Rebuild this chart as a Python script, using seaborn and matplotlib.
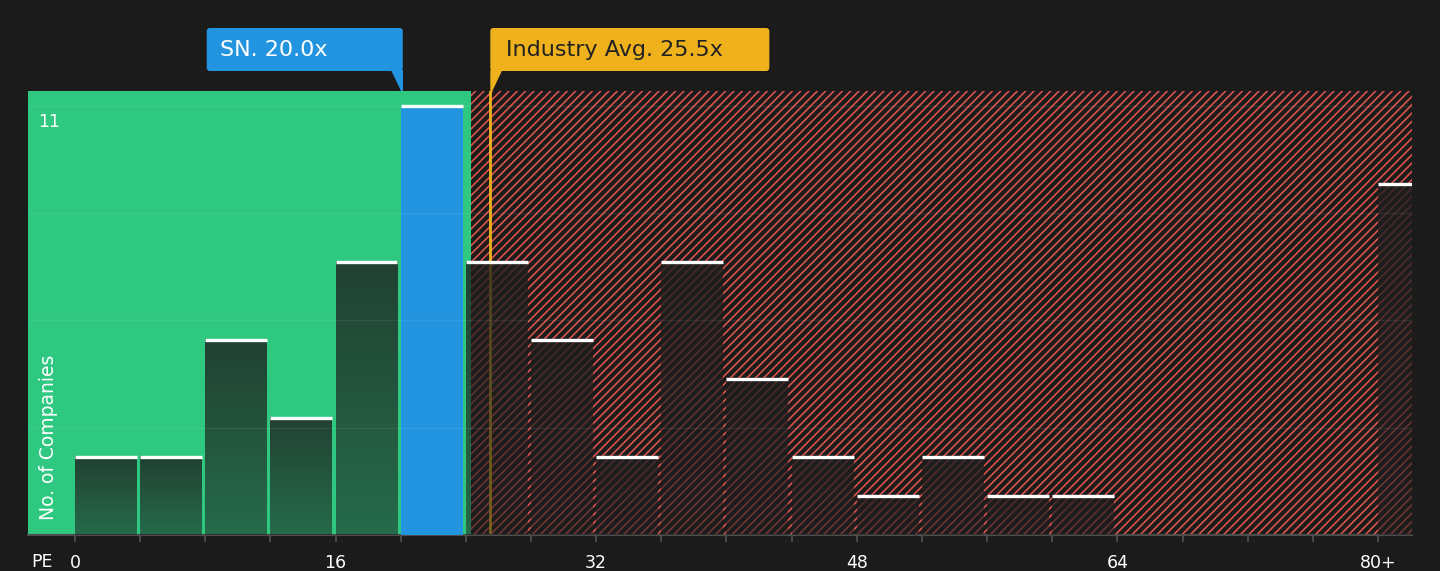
import numpy as np
import pandas as pd
import seaborn as sns
import matplotlib.pyplot as plt
from matplotlib.patches import FancyBboxPatch, Polygon

# PE histogram: left edge of each 4-wide bin, last bin is the 80+ bucket
pe_bins = [0, 4, 8, 12, 16, 20, 24, 28, 32, 36, 40, 44, 48, 52, 56, 60, 64, 68, 72, 76, 80]
n_companies = [2, 2, 5, 3, 7, 11, 7, 5, 2, 7, 4, 2, 1, 2, 1, 1, 0, 0, 0, 0, 9]
tick_values = [0, 16, 32, 48, 64, 80]
tick_labels = ["0", "16", "32", "48", "64", "80+"]
grid_values = [2.75, 5.5, 8.25, 11]

company_label = "SN. 20.0x"
company_pe = 20.0
industry_label = "Industry Avg. 25.5x"
industry_pe = 25.5
green_edge = 24.3  # edge of the green (good value) zone

BG = "#1b1b1b"
GREEN = "#2ec880"
BLUE = "#2394df"
YELLOW = "#efb21d"
RED = "#d9534f"

sns.set_style("dark", {"axes.facecolor": BG, "figure.facecolor": BG})
plt.rcParams["font.family"] = ["DejaVu Sans"]
plt.rcParams["hatch.linewidth"] = 1.2

df = pd.DataFrame({"pe": pe_bins, "count": n_companies})

fig = plt.figure(figsize=(14.4, 5.71), dpi=100)
ax = fig.add_axes([28 / 1440, 36 / 571, 1384 / 1440, 444 / 571])

sns.histplot(data=df, x="pe", weights="count", bins=pe_bins + [84], ax=ax,
             stat="count", element="bars", linewidth=0, zorder=3)
bars = list(ax.patches)

x_left, x_right = -2.886, 82.09
y_top = 11.38
ax.set_xlim(x_left, x_right)
ax.set_ylim(0, y_top)

# background zones
ax.axvspan(-10, green_edge, color=GREEN, lw=0, zorder=0.5)
ax.axvspan(green_edge, 100, facecolor="none", edgecolor=RED, hatch="////", lw=0, zorder=0.6)

# industry average line (under the bars)
ax.axvline(industry_pe, color=YELLOW, lw=2, zorder=2)

# bars: dark gradient, company bin blue, white caps
grad = np.zeros((100, 1, 4))
grad[..., :3] = 0.12
grad[:, 0, 3] = np.linspace(0.8, 0.55, 100)
for p in bars:
    p.set_width(p.get_width() * 0.95)
    x0, w, h = p.get_x(), p.get_width(), p.get_height()
    if h <= 0:
        continue
    if x0 <= company_pe < x0 + 4:
        p.set_facecolor(BLUE)
        p.set_alpha(1)
    else:
        p.set_facecolor("none")
        ax.imshow(grad, extent=(x0, x0 + w, 0, h), aspect="auto", zorder=3,
                  interpolation="bilinear")
    ax.hlines(h, x0, x0 + w, color="white", lw=2.4, zorder=4)

ax.set_xlim(x_left, x_right)
ax.set_ylim(0, y_top)

for g in grid_values:
    ax.axhline(g, color="white", alpha=0.07, lw=1, zorder=5)

ax.set_xlabel("")
ax.set_ylabel("")
ax.set_yticks([])
ax.set_xticks(tick_values)
ax.set_xticklabels(tick_labels)
ax.set_xticks(range(0, 84, 4), minor=True)
ax.tick_params(axis="x", which="both", length=5, width=1.3, color="#4d4d4d",
               labelcolor="white", labelsize=12.5, pad=8.5, bottom=True)
for s in ["top", "left", "right"]:
    ax.spines[s].set_visible(False)
ax.spines["bottom"].set_color("#4d4d4d")
ax.spines["bottom"].set_linewidth(1.5)

ax.text(0.0072, 10.82, "11", transform=ax.get_yaxis_transform(), color="white",
        fontsize=12.5, ha="left", va="top")
ax.text(0.0145, 0.034, "No. of Companies", transform=ax.transAxes, color="white",
        fontsize=13.5, rotation=90, ha="center", va="bottom", zorder=6)
fig.text(42 / 1440, 9 / 571, "PE", color="white", fontsize=12.5, ha="center", va="center")

# callout boxes above the plot (in inches)
def to_inch(xv):
    return ax.transData.transform((xv, 0))[0] / fig.dpi

tr = fig.dpi_scale_trans
box_bottom, box_h = 5.00, 0.43
axes_top = 4.80

cx = to_inch(company_pe)
bw = 1.96
fig.patches.append(FancyBboxPatch((cx + 0.02 - bw, box_bottom), bw, box_h,
                                  boxstyle="round,pad=0,rounding_size=0.03",
                                  fc=BLUE, ec="none", transform=tr))
fig.patches.append(Polygon([(cx + 0.02 - 0.12, box_bottom + 0.01), (cx + 0.02, box_bottom + 0.01),
                            (cx + 0.02, axes_top), (cx, axes_top)],
                           fc=BLUE, ec="none", transform=tr))
fig.text(cx + 0.02 - bw + 0.13, box_bottom + box_h / 2 - 0.01, company_label, transform=tr,
         color="white", fontsize=16, ha="left", va="center")

ix = to_inch(industry_pe)
iw = 2.79
fig.patches.append(FancyBboxPatch((ix, box_bottom), iw, box_h,
                                  boxstyle="round,pad=0,rounding_size=0.03",
                                  fc=YELLOW, ec="none", transform=tr))
fig.patches.append(Polygon([(ix, box_bottom + 0.01), (ix + 0.12, box_bottom + 0.01),
                            (ix + 0.02, axes_top), (ix, axes_top)],
                           fc=YELLOW, ec="none", transform=tr))
fig.text(ix + 0.16, box_bottom + box_h / 2 - 0.01, industry_label, transform=tr,
         color="#222222", fontsize=16, ha="left", va="center")

fig.savefig("out.png", dpi=100, facecolor=BG)
